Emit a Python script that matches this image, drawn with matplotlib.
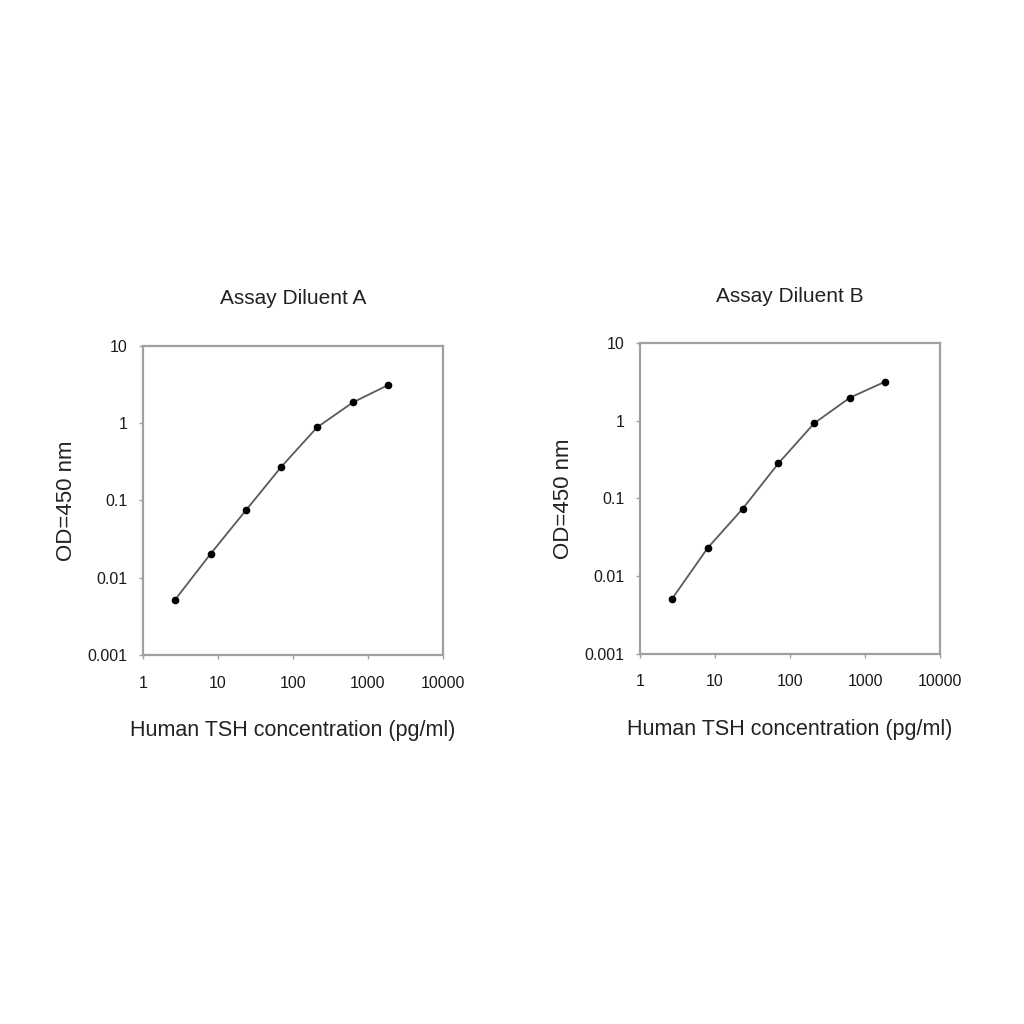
import matplotlib
matplotlib.use("Agg")
from matplotlib import pyplot as plt
from matplotlib.ticker import FixedLocator, FixedFormatter, NullLocator

plt.rcParams['font.family'] = ['Liberation Sans', 'DejaVu Sans']

# TSH standard curve points
conc = [2.65, 8.0, 23.5, 70, 210, 630, 1860]
od_a = [0.0051, 0.0204, 0.074, 0.272, 0.88, 1.85, 3.1]
od_b = [0.0050, 0.023, 0.074, 0.283, 0.93, 1.99, 3.2]

titles = ["Assay Diluent A", "Assay Diluent B"]
x_ticks = [1, 10, 100, 1000, 10000]
x_labels = ["1", "10", "100", "1000", "10000"]
y_ticks = [0.001, 0.01, 0.1, 1, 10]
y_labels = ["0.001", "0.01", "0.1", "1", "10"]

fig = plt.figure(figsize=(10.24, 10.24), dpi=100)
ax_a = fig.add_axes([0.1396, 0.3604, 0.293, 0.302])
ax_b = fig.add_axes([0.625, 0.3618, 0.293, 0.303])

for ax, od, title in zip([ax_a, ax_b], [od_a, od_b], titles):
    ax.plot(conc, od, color="#5a5a5a", lw=1.3, marker="o", ms=4.5,
            mfc="black", mec="black", zorder=3)
    ax.set_xscale("log")
    ax.set_yscale("log")
    ax.set_xlim(1, 10000)
    ax.set_ylim(0.001, 10)
    ax.xaxis.set_major_locator(FixedLocator(x_ticks))
    ax.xaxis.set_major_formatter(FixedFormatter(x_labels))
    ax.yaxis.set_major_locator(FixedLocator(y_ticks))
    ax.yaxis.set_major_formatter(FixedFormatter(y_labels))
    ax.xaxis.set_minor_locator(NullLocator())
    ax.yaxis.set_minor_locator(NullLocator())
    for s in ax.spines.values():
        s.set_color("#a0a0a0")
        s.set_linewidth(1.6)
    ax.tick_params(axis="both", length=3, width=1, color="#a0a0a0",
                   labelsize=11.5, labelcolor="#1a1a1a", direction="out")
    ax.tick_params(axis="x", pad=12)
    ax.tick_params(axis="y", pad=8)
    ax.set_title(title, fontsize=15, pad=30, color="#222222")
    ax.set_xlabel("Human TSH concentration (pg/ml)", fontsize=15.5,
                  labelpad=21, color="#222222")
    ax.set_ylabel("OD=450 nm", fontsize=16, labelpad=8, color="#222222")

fig.savefig("out.png", dpi=100, facecolor="white")
